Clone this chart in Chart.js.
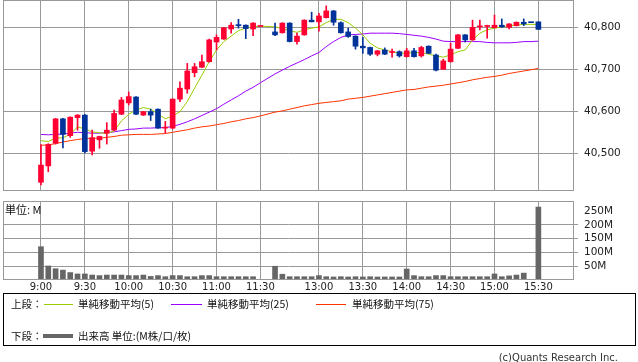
<!DOCTYPE html>
<html><head><meta charset="utf-8">
<script src="https://cdn.jsdelivr.net/npm/chart.js@4/dist/chart.umd.min.js"></script>
<style>
html,body{margin:0;padding:0;background:#fff;}
#wrap{position:relative;width:638px;height:362px;overflow:hidden;font-family:"DejaVu Sans",sans-serif;}
canvas{position:absolute;left:0;}
.t{position:absolute;white-space:nowrap;color:#111;font-size:10.5px;line-height:14px;height:14px;}
.jp{font-family:"Noto Sans CJK JP","DejaVu Sans",sans-serif;}
.ln{position:absolute;height:1px;}
</style></head><body>
<div id="wrap">
<canvas id="c1" width="638" height="191" style="top:0"></canvas>
<canvas id="c2" width="638" height="100" style="top:196px"></canvas>
<div class="t jp" style="left:5px;top:202px;font-size:11px;">単位: M</div>
<div style="position:absolute;left:3px;top:293px;width:631px;height:51px;border:1px solid #000;"></div>
<div class="t jp" style="left:11px;top:297px;">上段：</div>
<div class="ln" style="left:44px;top:304px;width:29px;background:#99cc00;"></div>
<div class="t jp" style="left:78px;top:297px;">単純移動平均(5)</div>
<div class="ln" style="left:171px;top:304px;width:31px;background:#9900ff;"></div>
<div class="t jp" style="left:207px;top:297px;">単純移動平均(25)</div>
<div class="ln" style="left:316px;top:304px;width:30px;background:#ff3300;"></div>
<div class="t jp" style="left:352px;top:297px;">単純移動平均(75)</div>
<div class="t jp" style="left:11px;top:329px;">下段：</div>
<div class="ln" style="left:43px;top:334px;width:30px;height:4px;background:#666;"></div>
<div class="t jp" style="left:78px;top:329px;">出来高 単位:(M株/口/枚)</div>
<div class="t" style="right:20px;top:351px;font-size:10px;color:#333;">(c)Quants Research Inc.</div>
</div>
<script>
const times = ['9:00','9:05','9:10','9:15','9:20','9:25','9:30','9:35','9:40','9:45','9:50','9:55',
 '10:00','10:05','10:10','10:15','10:20','10:25','10:30','10:35','10:40','10:45','10:50','10:55',
 '11:00','11:05','11:10','11:15','11:20','11:25','11:30','',
 '12:30','12:35','12:40','12:45','12:50','12:55',
 '13:00','13:05','13:10','13:15','13:20','13:25','13:30','13:35','13:40','13:45','13:50','13:55',
 '14:00','14:05','14:10','14:15','14:20','14:25','14:30','14:35','14:40','14:45','14:50','14:55',
 '15:00','15:05','15:10','15:15','15:20','15:25','15:30'];
const tickLabels = ['9:00','9:30','10:00','10:30','11:00','11:30','13:00','13:30','14:00','14:30','15:00','15:30'];
const priceTicks = [40500,40600,40700,40800];
const volumeTicks = [50,100,150,200,250];

const open = [40431,40470,40524,40582,40542,40585,40591,40505,40532,40548,40555,40593,40620,40634,40591,40599,40605,40560,40560,40629,40653,40692,40705,40718,40765,40772,40796,40806,40805,40796,40802,null,40789,40787,40810,40766,40782,40817,40813,40823,40839,40811,40789,40779,40755,40752,40736,40746,40740,40742,40730,40744,40732,40755,40734,40700,40718,40750,40782,40770,40801,40802,40799,40805,40800,40804,40812,40812,40813];
const high = [40521,40523,40583,40583,40587,40592,40592,40555,40541,40573,40603,40633,40646,40635,40600,40605,40606,40576,40630,40670,40714,40714,40734,40772,40782,40800,40811,40819,40806,40811,40802,null,40810,40811,40811,40786,40818,40836,40833,40851,40840,40813,40798,40780,40776,40753,40745,40751,40748,40744,40750,40750,40755,40756,40736,40724,40762,40783,40783,40817,40817,40805,40829,40820,40809,40813,40820,40812,40813];
const low = [40425,40456,40522,40513,40538,40555,40501,40496,40512,40522,40554,40592,40615,40592,40590,40578,40559,40548,40558,40623,40643,40682,40704,40717,40746,40771,40786,40798,40773,40780,40802,null,40780,40786,40765,40760,40781,40813,40791,40822,40805,40786,40776,40748,40738,40733,40732,40735,40729,40729,40729,40729,40729,40737,40696,40700,40717,40749,40765,40769,40794,40774,40798,40800,40796,40803,40804,40811,40795];
const close = [40472,40521,40582,40545,40586,40591,40504,40537,40540,40555,40595,40627,40635,40593,40599,40591,40560,40562,40629,40655,40696,40706,40718,40770,40776,40799,40805,40804,40797,40810,40802,null,40782,40810,40766,40779,40817,40813,40827,40839,40812,40787,40778,40755,40751,40736,40744,40736,40742,40732,40744,40730,40752,40738,40698,40720,40748,40782,40770,40800,40802,40804,40805,40801,40808,40812,40808,40811,40795];
const ma5 = [40530,40528,40536,40537,40545,40563,40558,40551,40549,40547,40553,40577,40593,40603,40609,40605,40594,40582,40589,40599,40623,40655,40686,40718,40746,40766,40779,40792,40798,40801,40803,null,40801,40797,40792,40788,40794,40798,40801,40811,40819,40819,40811,40798,40782,40762,40751,40746,40742,40738,40738,40740,40740,40736,40732,40729,40734,40742,40746,40770,40786,40794,40798,40801,40804,40805,40807,40807,40807];
const ma25 = [40545,40544,40545,40546,40548,40550,40549,40548,40548,40549,40551,40554,40557,40558,40560,40560,40561,40561,40564,40569,40575,40582,40590,40598,40606,40617,40627,40637,40648,40657,40668,null,40689,40698,40707,40715,40723,40732,40740,40754,40766,40776,40782,40783,40784,40786,40786,40786,40786,40785,40783,40781,40779,40776,40772,40767,40766,40766,40766,40766,40766,40764,40763,40763,40763,40764,40766,40766,40767];
const ma75 = [40519,40520,40523,40527,40530,40533,40535,40536,40536,40538,40540,40543,40544,40545,40545,40545,40546,40547,40550,40553,40556,40560,40563,40565,40568,40571,40575,40578,40582,40585,40589,null,40598,40601,40605,40609,40613,40616,40619,40621,40623,40625,40629,40631,40633,40636,40639,40642,40645,40648,40651,40652,40655,40658,40660,40662,40665,40668,40671,40675,40678,40681,40683,40686,40690,40693,40696,40699,40702];
const volume = [121,51,41,36,27,22,22,18,16,18,18,18,16,16,18,13,16,12,16,16,12,12,16,16,12,12,12,12,12,12,1,null,50,21,12,12,12,12,16,12,11,12,11,12,11,12,11,11,11,11,40,16,12,12,16,16,12,12,12,12,12,12,22,12,15,18,25,1,265];

const UP = '#ff0033', DOWN = '#003399', GRID = '#999999';
const XMIN = -5.19, XMAX = 72.87;
const tickPos = tickLabels.map(l => times.indexOf(l));
const labelAt = v => { const k = tickPos.indexOf(Math.round(v)); return k >= 0 ? tickLabels[k] : ''; };

Chart.defaults.font.family = 'DejaVu Sans';
Chart.defaults.font.size = 10.5;
Chart.defaults.color = '#222';

const frame = { id: 'frame', afterDatasetsDraw(chart) {
  const a = chart.chartArea, ctx = chart.ctx;
  ctx.save(); ctx.strokeStyle = GRID; ctx.lineWidth = 1;
  ctx.strokeRect(Math.round(a.left) + 0.5, Math.round(a.top) + 0.5,
    Math.round(a.right) - Math.round(a.left) - 1, Math.round(a.bottom) - Math.round(a.top) - 1);
  ctx.restore();
}};
const noPadY = (w) => s => { s.width = w; s.paddingTop = 0; s.paddingBottom = 0; };
const noPadX = (h) => s => { s.height = h; s.paddingLeft = 0; s.paddingRight = 0; };

const idx = times.map((t, i) => i).filter(i => open[i] !== null);
const cols = idx.map(i => close[i] >= open[i] ? UP : DOWN);
const wicks = idx.map(i => ({ x: i, y: [low[i], high[i]] }));
const bodies = idx.map(i => ({ x: i, y: [Math.min(open[i], close[i]), Math.max(open[i], close[i])] }));
const line = (arr) => arr.map((v, i) => ({ x: i, y: v }));

const PY = 2.381; // price per px
const pMax = 40800 + 27.3 * PY, pMin = pMax - 191 * PY;

new Chart(document.getElementById('c1'), {
  type: 'bar',
  data: { datasets: [
    { type: 'bar', data: bodies, backgroundColor: cols, barThickness: 5, minBarLength: 1, grouped: false, order: 1 },
    { type: 'bar', data: wicks, backgroundColor: cols, barThickness: 1, grouped: false, order: 2 },
    { type: 'line', data: line(ma5), borderColor: '#99cc00', borderWidth: 1, pointRadius: 0, spanGaps: true, order: 3 },
    { type: 'line', data: line(ma25), borderColor: '#9900ff', borderWidth: 1, pointRadius: 0, spanGaps: true, order: 4 },
    { type: 'line', data: line(ma75), borderColor: '#ff3300', borderWidth: 1, pointRadius: 0, spanGaps: true, order: 5 }
  ]},
  options: {
    responsive: false, animation: false, events: [],
    layout: { padding: { left: 3, top: 0, right: 0, bottom: 0 } },
    plugins: { legend: { display: false }, tooltip: { enabled: false } },
    scales: {
      x: { type: 'linear', min: XMIN, max: XMAX, offset: false,
        grid: { offset: false, color: GRID, drawTicks: false, lineWidth: 1 },
        border: { display: false },
        ticks: { display: false },
        afterBuildTicks: s => { s.ticks = tickPos.map(v => ({ value: v })); },
        afterFit: noPadX(0) },
      y: { position: 'right', min: pMin, max: pMax,
        grid: { color: GRID, tickLength: 4, lineWidth: 1 },
        border: { display: false },
        ticks: { padding: 6, font: { size: 10.5 }, color: '#222', callback: v => v.toLocaleString('en-US') },
        afterBuildTicks: s => { s.ticks = priceTicks.map(v => ({ value: v })); },
        afterFit: noPadY(64) }
    }
  },
  plugins: [frame]
});

const vIdx = times.map((t, i) => i).filter(i => volume[i] !== null);
new Chart(document.getElementById('c2'), {
  type: 'bar',
  data: { datasets: [
    { data: vIdx.map(i => ({ x: i, y: volume[i] })), backgroundColor: '#666666', barThickness: 5, grouped: false }
  ]},
  options: {
    responsive: false, animation: false, events: [],
    layout: { padding: { left: 3, top: 5, right: 0, bottom: 0 } },
    plugins: { legend: { display: false }, tooltip: { enabled: false } },
    scales: {
      x: { type: 'linear', min: XMIN, max: XMAX, offset: false,
        grid: { offset: false, color: GRID, drawTicks: false, lineWidth: 1 },
        border: { display: false },
        ticks: { padding: 1, maxRotation: 0, autoSkip: false, font: { size: 10 }, color: '#222', callback: v => labelAt(v) },
        afterBuildTicks: s => { s.ticks = tickPos.map(v => ({ value: v })); },
        afterFit: noPadX(16) },
      y: { position: 'right', min: 0, max: 287,
        grid: { color: c => (c.tick && c.tick.value === 250) ? 'rgba(0,0,0,0)' : GRID, tickLength: 4, lineWidth: 1 },
        border: { display: false },
        ticks: { padding: 6, font: { size: 10.5 }, color: '#222', callback: v => v + 'M' },
        afterBuildTicks: s => { s.ticks = volumeTicks.map(v => ({ value: v })); },
        afterFit: noPadY(64) }
    }
  },
  plugins: [frame]
});
</script>
</body></html>
